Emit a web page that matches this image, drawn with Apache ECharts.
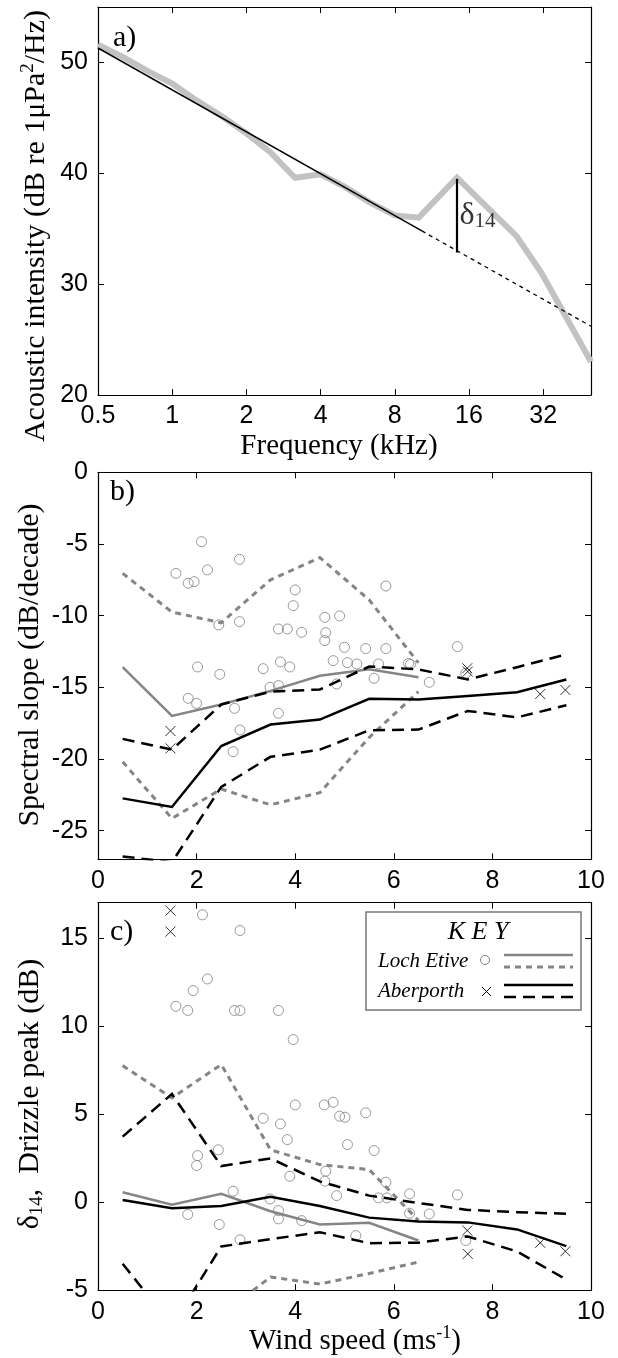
<!DOCTYPE html>
<html><head><meta charset="utf-8">
<script src="https://cdn.jsdelivr.net/npm/echarts@6/dist/echarts.min.js"></script>
<style>html,body{margin:0;padding:0;background:#fff}#c{width:618px;height:1358px}</style>
</head><body><div id="c"></div>
<script>
// ---- Panel a: spectrum ----
const spectrumFreq  = [0.5, 0.63, 0.8, 1, 1.25, 1.6, 2, 2.5, 3.15, 4, 5, 6.3, 8, 10, 14.3, 25, 31.5, 50];
const spectrumLevel = [51.6, 50.5, 49.2, 48.1, 46.6, 45.1, 43.6, 41.9, 39.6, 39.9, 38.8, 37.4, 36.2, 36.0, 39.6, 34.3, 31.0, 23.0];
const fitFreq = [0.5, 10.3];
const fitLevel = [51.3, 34.8];
const extrapFreq = [10.3, 50];
const extrapLevel = [34.8, 26.2];
const deltaFreq = [14.3, 14.3];
const deltaLevel = [39.5, 32.85];
const levelTicks = [20, 30, 40, 50];

// ---- Panels b, c: bins ----
const windBins = [0.5, 1.5, 2.5, 3.5, 4.5, 5.5, 6.5, 7.5, 8.5, 9.5];
const lochBins = [0.5, 1.5, 2.5, 3.5, 4.5, 5.5, 6.5];
const windTicks = [0, 2, 4, 6, 8, 10];
const slopeTicks = [-25, -20, -15, -10, -5, 0];
const peakTicks = [-5, 0, 5, 10, 15];

const lochSlopeMean  = [-13.6, -17.0, -16.2, -15.25, -14.2, -13.75, -14.3];
const lochSlopeUpper = [-7.05, -9.75, -10.5, -7.5, -5.95, -8.9, -13.3];
const lochSlopeLower = [-20.2, -24.15, -22.1, -23.2, -22.35, -18.5, -15.3];
const aberSlopeMean  = [-22.75, -23.35, -19.1, -17.6, -17.25, -15.8, -15.85, -15.6, -15.35, -14.45];
const aberSlopeUpper = [-18.6, -19.35, -16.2, -15.3, -15.15, -13.55, -13.75, -14.45, -13.6, -12.7];
const aberSlopeLower = [-26.8, -27.2, -21.95, -19.85, -19.35, -18.0, -17.95, -16.65, -17.1, -16.25];

const lochPeakMean  = [0.56, -0.14, 0.47, -0.52, -1.27, -1.17, -2.18];
const lochPeakUpper = [7.75, 5.92, 7.81, 2.97, 2.13, 1.85, -1.04];
const lochPeakLower = [-8.0, -7.5, -6.4, -4.25, -4.65, -4.05, -3.4];
const aberPeakMean  = [0.12, -0.35, -0.22, 0.3, -0.22, -0.88, -1.1, -1.15, -1.55, -2.5];
const aberPeakUpper = [3.72, 6.14, 2.05, 2.48, 1.18, 0.37, -0.05, -0.44, -0.57, -0.66];
const aberPeakLower = [-3.5, -7.0, -2.52, -2.1, -1.71, -2.33, -2.3, -1.95, -2.8, -4.4];

// ---- Individual observations ----
const lochSlopeWind = [2.10,2.87,1.58,1.83,1.95,2.22,4.00,3.96,5.84,2.45,2.87,4.60,4.90,3.66,3.84,4.13,4.62,4.60,5.00,5.43,5.84,7.29,2.02,2.47,3.35,3.70,3.89,4.77,5.06,5.25,5.69,6.30,6.34,5.60,3.49,3.66,4.84,6.72,7.46,1.83,2.00,2.77,3.66,2.88,2.74];
const lochSlope = [-4.84,-6.07,-7.05,-7.74,-7.63,-6.81,-8.21,-9.30,-7.93,-10.65,-10.42,-10.12,-10.02,-10.93,-10.93,-11.16,-11.19,-11.74,-12.21,-12.30,-12.30,-12.16,-13.58,-14.09,-13.70,-13.23,-13.58,-13.14,-13.28,-13.37,-13.37,-13.33,-13.40,-14.37,-15.00,-14.88,-14.77,-14.65,-14.02,-15.77,-16.12,-16.47,-16.81,-17.98,-19.49];
const lochPeakWind = [2.12,2.88,2.22,1.93,1.58,1.82,2.77,2.88,3.66,3.96,4.00,4.59,4.77,4.90,5.01,5.43,3.35,3.70,3.84,5.06,5.60,2.44,2.02,2.00,3.89,4.62,4.60,5.84,2.74,4.84,5.69,5.86,6.32,7.29,3.49,3.66,3.66,4.13,1.82,6.32,6.72,2.46,5.23,2.88,7.46];
const lochPeak = [16.31,15.42,12.67,12.01,11.12,10.88,10.88,10.88,10.88,9.23,5.52,5.52,5.67,4.88,4.82,5.07,4.76,4.44,3.55,3.27,2.93,2.97,2.64,2.08,1.47,1.76,1.19,1.13,0.62,0.37,0.24,0.24,0.47,0.41,0.18,-0.48,-0.95,-1.05,-0.70,-0.63,-0.67,-1.27,-1.90,-2.14,-2.18];
const aberWind = [1.47, 1.47, 7.49, 7.50, 8.97, 9.48];
const aberSlope = [-18.05, -19.26, -13.67, -13.90, -15.47, -15.19];
const aberPeak = [16.55, 15.36, -1.61, -2.94, -2.31, -2.79];

const SERIF = 'Liberation Serif';
const SANS = 'Liberation Sans';
const zip = (a, b) => a.map((v, i) => [v, b[i]]);

const GRIDS = [
  {left: 98, top: 7, width: 493, height: 388},
  {left: 98, top: 472.3, width: 493, height: 387},
  {left: 98, top: 902.7, width: 493, height: 387.5}
];

function xAxisPair(gi, base) {
  const common = Object.assign({
    gridIndex: gi, splitLine: {show: false},
    axisLine: {show: true, onZero: false, lineStyle: {color: '#000', width: 1.2}},
    axisTick: {show: true, inside: true, length: 6, lineStyle: {color: '#000', width: 1}}
  }, base);
  const bottom = Object.assign({}, common, {position: 'bottom',
    axisLabel: Object.assign({show: true, fontFamily: SANS, fontSize: 25, color: '#000', margin: 9, showMaxLabel: base.type === 'log' ? false : null}, base.axisLabel || {})});
  const top = Object.assign({}, common, {position: 'top', axisLabel: {show: false}});
  return [bottom, top];
}
function yAxisPair(gi, base, ticks) {
  const common = {
    gridIndex: gi, type: 'value', min: base.min, max: base.max, splitLine: {show: false},
    axisLine: {show: true, onZero: false, lineStyle: {color: '#000', width: 1.2}},
    axisTick: {show: true, inside: true, length: 6, customValues: ticks, lineStyle: {color: '#000', width: 1}}
  };
  const left = Object.assign({}, common, {position: 'left',
    axisLabel: {show: true, customValues: ticks, fontFamily: SANS, fontSize: 25, color: '#000', margin: 10}});
  const right = Object.assign({}, common, {position: 'right', axisLabel: {show: false}});
  return [left, right];
}

const xAxes = [
  ...xAxisPair(0, {type: 'log', logBase: 2, min: 0.5, max: 50, axisLabel: {formatter: v => String(v)}}),
  ...xAxisPair(1, {type: 'value', min: 0, max: 10, interval: 2}),
  ...xAxisPair(2, {type: 'value', min: 0, max: 10, interval: 2})
];
const yAxes = [
  ...yAxisPair(0, {min: 20, max: 55}, levelTicks),
  ...yAxisPair(1, {min: -27, max: 0}, slopeTicks),
  ...yAxisPair(2, {min: -5, max: 17}, peakTicks)
];

function line(xi, data, color, width, type, z) {
  return {type: 'line', xAxisIndex: xi, yAxisIndex: xi, data: data, symbol: 'none', showSymbol: false,
    clip: true, silent: true, z: z || 2, lineStyle: {color: color, width: width, type: type || 'solid', cap: 'butt', join: 'miter'}};
}
const GRAY = '#858585';
const circleStyle = {color: 'transparent', borderColor: '#7f7f7f', borderWidth: 1};
const crossSym = 'path://M0 0L10 10M10 0L0 10';
const crossStyle = {color: 'transparent', borderColor: '#000', borderWidth: 1};

const series = [
  // panel a
  line(0, zip(spectrumFreq, spectrumLevel), '#c2c2c2', 6, 'solid', 1),
  line(0, zip(fitFreq, fitLevel), '#000', 1.5, 'solid', 3),
  line(0, zip(extrapFreq, extrapLevel), '#000', 1.3, [4, 4], 3),
  line(0, zip(deltaFreq, deltaLevel), '#000', 2.2, 'solid', 3),
  {type: 'scatter', xAxisIndex: 0, yAxisIndex: 0, data: [[deltaFreq[0], (deltaLevel[0] + deltaLevel[1]) / 2 + 0.1]],
    symbol: 'circle', symbolSize: 1, itemStyle: {color: 'transparent'}, silent: true, z: 4,
    label: {show: true, position: 'right', distance: 2, formatter: '{d|δ}{s|14}',
      rich: {d: {fontFamily: SERIF, fontSize: 32, color: '#000', verticalAlign: 'bottom', lineHeight: 34},
             s: {fontFamily: SERIF, fontSize: 21, color: '#000', verticalAlign: 'bottom', lineHeight: 26}}}},
  // panel b
  {type: 'scatter', xAxisIndex: 2, yAxisIndex: 2, data: zip(lochSlopeWind, lochSlope), symbol: 'circle', symbolSize: 10, itemStyle: circleStyle, silent: true, z: 1},
  {type: 'scatter', xAxisIndex: 2, yAxisIndex: 2, data: zip(aberWind, aberSlope), symbol: crossSym, symbolSize: 10, itemStyle: crossStyle, silent: true, z: 1},
  line(2, zip(lochBins, lochSlopeMean), GRAY, 2.5),
  line(2, zip(lochBins, lochSlopeUpper), GRAY, 3, [6, 5]),
  line(2, zip(lochBins, lochSlopeLower), GRAY, 3, [6, 5]),
  line(2, zip(windBins, aberSlopeMean), '#000', 2.5, 'solid', 3),
  line(2, zip(windBins, aberSlopeUpper), '#000', 2.5, [12, 7], 3),
  line(2, zip(windBins, aberSlopeLower), '#000', 2.5, [12, 7], 3),
  // panel c
  {type: 'scatter', xAxisIndex: 4, yAxisIndex: 4, data: zip(lochPeakWind, lochPeak), symbol: 'circle', symbolSize: 10, itemStyle: circleStyle, silent: true, z: 1},
  {type: 'scatter', xAxisIndex: 4, yAxisIndex: 4, data: zip(aberWind, aberPeak), symbol: crossSym, symbolSize: 10, itemStyle: crossStyle, silent: true, z: 1},
  line(4, zip(lochBins, lochPeakMean), GRAY, 2.5),
  line(4, zip(lochBins, lochPeakUpper), GRAY, 3, [6, 5]),
  line(4, zip(lochBins, lochPeakLower), GRAY, 3, [6, 5]),
  line(4, zip(windBins, aberPeakMean), '#000', 2.5, 'solid', 3),
  line(4, zip(windBins, aberPeakUpper), '#000', 2.5, [12, 7], 3),
  line(4, zip(windBins, aberPeakLower), '#000', 2.5, [12, 7], 3)
];

function txt(x, y, text, font, opts) {
  return Object.assign({type: 'text', x: x, y: y, z: 100, silent: true,
    style: Object.assign({text: text, font: font, fill: '#000', align: 'center', verticalAlign: 'middle',
      textAlign: 'center', textVerticalAlign: 'middle'}, (opts && opts.style) || {})},
    opts && opts.rotation !== undefined ? {rotation: opts.rotation} : {});
}
const titleRich = (size) => ({
  n: {fontFamily: SERIF, fontSize: size, lineHeight: size + 4, color: '#000'},
  sup: {fontFamily: SERIF, fontSize: Math.round(size * 0.62), lineHeight: size + 4, verticalAlign: 'top', color: '#000'},
  sub: {fontFamily: SERIF, fontSize: Math.round(size * 0.62), lineHeight: size + 4, verticalAlign: 'bottom', color: '#000'}
});
const R = Math.PI / 2;
const graphic = [
  txt(113, 38, 'a)', `30px "${SERIF}"`, {style: {align: 'left', textAlign: 'left'}}),
  txt(110, 492, 'b)', `30px "${SERIF}"`, {style: {align: 'left', textAlign: 'left'}}),
  txt(110, 932, 'c)', `30px "${SERIF}"`, {style: {align: 'left', textAlign: 'left'}}),
  txt(36, 226, '', '', {rotation: R, style: {text: '{n|Acoustic intensity (dB re 1μPa}{sup|2}{n|/Hz)}', rich: titleRich(30)}}),
  txt(30, 665, '', '', {rotation: R, style: {text: '{n|Spectral slope (dB/decade)}', rich: titleRich(30)}}),
  txt(30, 1094, '', '', {rotation: R, style: {text: '{n|δ}{sub|14}{n|,  Drizzle peak (dB)}', rich: titleRich(30)}}),
  txt(339, 446, '', '', {style: {text: '{n|Frequency (kHz)}', rich: titleRich(29)}}),
  txt(355, 1341, '', '', {style: {text: '{n|Wind speed (ms}{sup|-1}{n|)}', rich: titleRich(29)}}),
  // legend
  {type: 'rect', z: 90, silent: true, shape: {x: 366, y: 912, width: 215, height: 98}, style: {fill: '#fff', stroke: '#777', lineWidth: 1.5}},
  txt(478, 932, 'K E Y', `italic 26px "${SERIF}"`),
  txt(378, 961, 'Loch Etive', `italic 21px "${SERIF}"`, {style: {align: 'left', textAlign: 'left'}}),
  txt(378, 991, 'Aberporth', `italic 21px "${SERIF}"`, {style: {align: 'left', textAlign: 'left'}}),
  {type: 'circle', z: 100, silent: true, shape: {cx: 485, cy: 960, r: 4.5}, style: {fill: 'none', stroke: '#7f7f7f', lineWidth: 1}},
  {type: 'line', z: 100, silent: true, shape: {x1: 482, y1: 987, x2: 491, y2: 996}, style: {stroke: '#000', lineWidth: 1}},
  {type: 'line', z: 100, silent: true, shape: {x1: 491, y1: 987, x2: 482, y2: 996}, style: {stroke: '#000', lineWidth: 1}},
  {type: 'line', z: 100, silent: true, shape: {x1: 504, y1: 955, x2: 573, y2: 955}, style: {stroke: GRAY, lineWidth: 2.5}},
  {type: 'line', z: 100, silent: true, shape: {x1: 504, y1: 967, x2: 573, y2: 967}, style: {stroke: GRAY, lineWidth: 3, lineDash: [6, 5]}},
  {type: 'line', z: 100, silent: true, shape: {x1: 504, y1: 985, x2: 573, y2: 985}, style: {stroke: '#000', lineWidth: 2.5}},
  {type: 'line', z: 100, silent: true, shape: {x1: 504, y1: 997, x2: 573, y2: 997}, style: {stroke: '#000', lineWidth: 2.5, lineDash: [12, 7]}}
];

const chart = echarts.init(document.getElementById('c'), null, {renderer: 'canvas'});
chart.setOption({
  animation: false,
  backgroundColor: '#fff',
  grid: GRIDS.map(g => Object.assign({outerBoundsMode: 'none', containLabel: false}, g)),
  xAxis: xAxes,
  yAxis: yAxes,
  series: series,
  graphic: graphic
});
</script>
</body></html>
